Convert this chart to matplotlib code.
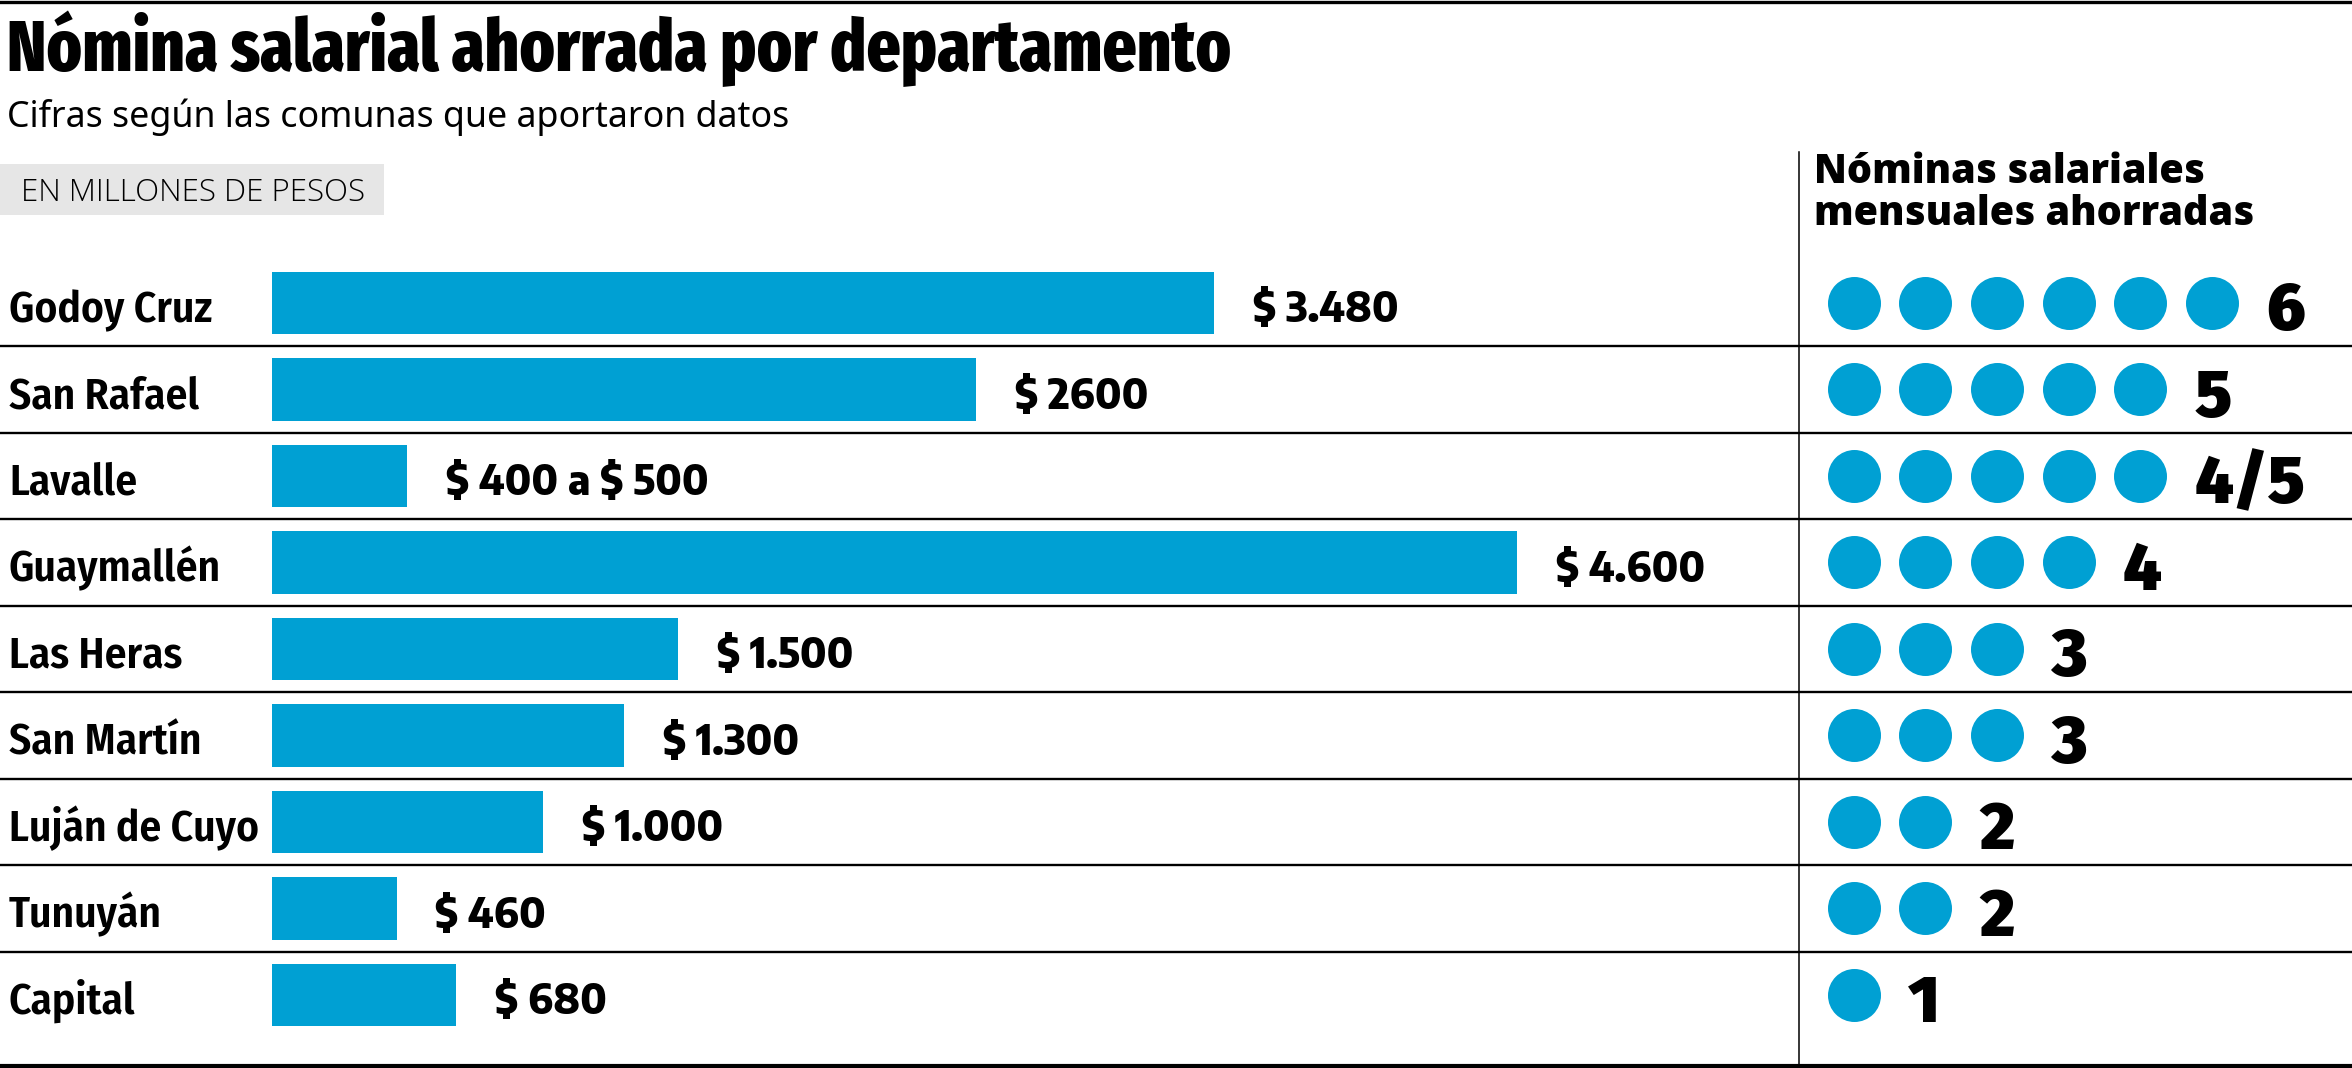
import math
import matplotlib
matplotlib.use("Agg")
import matplotlib.pyplot as plt
from matplotlib import font_manager as fm
from matplotlib.font_manager import FontProperties
from matplotlib.textpath import TextPath
from matplotlib.lines import Line2D
from matplotlib.patches import Rectangle

# ---------------- data ----------------
categories = ["Godoy Cruz", "San Rafael", "Lavalle", "Guaymallén", "Las Heras",
              "San Martín", "Luján de Cuyo", "Tunuyán", "Capital"]
amounts = [3480, 2600, 500, 4600, 1500, 1300, 1000, 460, 680]
amount_labels = ["$ 3.480", "$ 2600", "$ 400 a $ 500", "$ 4.600", "$ 1.500",
                 "$ 1.300", "$ 1.000", "$ 460", "$ 680"]
payrolls = [6, 5, 5, 4, 3, 3, 2, 2, 1]
payroll_labels = ["6", "5", "4/5", "4", "3", "3", "2", "2", "1"]

title = "Nómina salarial ahorrada por departamento"
subtitle = "Cifras según las comunas que aportaron datos"
unit_note = "EN MILLONES DE PESOS"
panel_title_lines = ["Nóminas salariales", "mensuales ahorradas"]

# ---------------- style helpers ----------------
BLUE = "#00A0D3"
W, H = 2352, 1068
DPI = 100
NAMES = set(f.name for f in fm.fontManager.ttflist)


def ink(text, family, weight, size=100):
    fp = FontProperties(family=family, weight=weight)
    e = TextPath((0, 0), text, size=size, prop=fp).get_extents()
    return e.width, e.height


def choose(text, target_w, target_cap, cands, width_fit=False):
    """pick the candidate font whose width/cap proportion best matches;
    return (family, weight, size_pt, cap_px)"""
    best = None
    goal = target_w / target_cap
    for fam, wt in cands:
        if fam not in NAMES:
            continue
        iw, _ = ink(text, fam, wt)
        ch = ink("H", fam, wt)[1]
        err = abs(math.log((iw / ch) / goal))
        if best is None or err < best[0]:
            best = (err, fam, wt, iw, ch)
    if best is None:
        fam, wt = "DejaVu Sans", 400
        iw, _ = ink(text, fam, wt)
        ch = ink("H", fam, wt)[1]
        best = (0, fam, wt, iw, ch)
    _, fam, wt, iw, ch = best
    if width_fit:
        k = target_w / iw
    else:
        k = math.sqrt((target_w / iw) * (target_cap / ch))
    return fam, wt, 100 * k * 72 / DPI, ch * k


REG = [("Open Sans", 400), ("Noto Sans", 400), ("Fira Sans Condensed", 300),
       ("Fira Sans Condensed", 400), ("Fira Sans Extra Condensed", 400),
       ("PT Sans Narrow", 400), ("IBM Plex Sans Condensed", 400),
       ("Encode Sans Semi Condensed", 400), ("Open Sans", 300)]

f_title = choose(title, 1220, 45, [("Fira Sans Extra Condensed", 800)], width_fit=True)
f_sub = choose(subtitle, 779, 25, REG, width_fit=True)
f_unit = choose(unit_note, 339, 23, REG, width_fit=True)
f_cat = choose(categories[0], 201, 30, [("Open Sans", 600), ("Noto Sans", 600), ("Noto Sans", 500),
                                        ("Fira Sans Condensed", 500), ("Fira Sans Condensed", 600),
                                        ("Fira Sans", 500), ("IBM Plex Sans Condensed", 600),
                                        ("Encode Sans Semi Condensed", 600)])
f_val = choose(amount_labels[0], 143, 31, [("Fira Sans Condensed", 800), ("Fira Sans", 800),
                                           ("Open Sans", 800), ("Noto Sans", 800),
                                           ("Fira Sans Condensed", 900), ("Encode Sans Semi Condensed", 800)])
f_head = choose(panel_title_lines[1], 437, 28, [("Fira Sans", 800), ("Fira Sans", 900),
                                               ("Fira Sans Condensed", 800), ("Fira Sans Condensed", 900),
                                               ("Open Sans", 800), ("Noto Sans", 900)], width_fit=True)
f_num = choose(payroll_labels[2], 106, 47, [("Fira Sans", 900), ("Fira Sans Condensed", 900),
                                            ("Open Sans", 800), ("Noto Sans", 900),
                                            ("Roboto", 900), ("Lato", 900)])


def tkw(f):
    return dict(fontfamily=f[0], fontweight=f[1], fontsize=f[2], parse_math=False)


fig = plt.figure(figsize=(W / DPI, H / DPI), dpi=DPI)
fig.patch.set_facecolor("white")


def fx(px):
    return px / W


def fy(py):
    return 1 - py / H


# row geometry
ROW0 = 303.0       # px centre of first row
ROWH = 86.5        # px per row
TXT_DY = 4.0       # text sits slightly below row centre
top_px = ROW0 - ROWH / 2
ybot = (H - ROW0) / ROWH
ax_h = (H - top_px) / H

# ---------------- bar axes ----------------
ax = fig.add_axes([0, 0, 1, ax_h])
ppu = (1214 - 272) / 3480.0
x0, x1 = -272 / ppu, (W - 272) / ppu
ax.set_xlim(x0, x1)
ax.set_ylim(ybot, -0.5)
ax.axis("off")
ax.patch.set_alpha(0)

rows = list(range(len(categories)))
ax.barh(rows, amounts, height=0.72, color=BLUE, linewidth=0)

for k in rows[:-1]:
    ax.axhline(k + 0.5, color="black", lw=1.7, zorder=3)
ax.axhline((1066 - ROW0) / ROWH, color="black", lw=3, zorder=3)

for i, c in enumerate(categories):
    ax.text(x0 + 9 / ppu, i + (TXT_DY + f_cat[3] / 2) / ROWH, c,
            va="baseline", ha="left", color="black", **tkw(f_cat))

for i, (v, lbl) in enumerate(zip(amounts, amount_labels)):
    ax.annotate(lbl, xy=(v, i), xytext=(28, -(TXT_DY + f_val[3] / 2) * 72 / DPI),
                textcoords="offset points", va="baseline", ha="left", color="black",
                **tkw(f_val))

# ---------------- dots panel ----------------
ax2 = fig.add_axes([1799 / W, 0, (W - 1799) / W, ax_h])
DOT = 71.5
ax2.set_xlim(-(1854 - 1799) / DOT, (W - 1854) / DOT)
ax2.set_ylim(ybot, -0.5)
ax2.axis("off")
ax2.patch.set_alpha(0)

dot_pt = 53 * 72 / DPI
for i, n in enumerate(payrolls):
    ax2.scatter(list(range(n)), [i] * n, s=dot_pt ** 2, color=BLUE, linewidths=0, zorder=4)

for i, (n, lbl) in enumerate(zip(payrolls, payroll_labels)):
    ax2.text(n - 1 + 0.76, i + (TXT_DY + f_num[3] / 2) / ROWH, lbl,
             va="baseline", ha="left", color="black", **tkw(f_num))

fig.add_artist(Line2D([fx(1799), fx(1799)], [fy(152), fy(1066)], color="black", lw=1.1))
fig.add_artist(Line2D([0, 1], [fy(1.5), fy(1.5)], color="black", lw=2.4))

# ---------------- header texts ----------------
fig.text(fx(7), fy(71), title, va="baseline", ha="left", **tkw(f_title))
fig.text(fx(7), fy(127), subtitle, va="baseline", ha="left", **tkw(f_sub))
fig.add_artist(Rectangle((0, fy(215)), 384 / W, 51 / H, transform=fig.transFigure,
                         facecolor="#E6E6E6", edgecolor="none"))
fig.text(fx(21), fy(201), unit_note, va="baseline", ha="left", **tkw(f_unit))
fig.text(fx(1814), fy(183), panel_title_lines[0], va="baseline", ha="left", **tkw(f_head))
fig.text(fx(1814), fy(225), panel_title_lines[1], va="baseline", ha="left", **tkw(f_head))

fig.savefig("out.png", dpi=DPI, facecolor="white")
